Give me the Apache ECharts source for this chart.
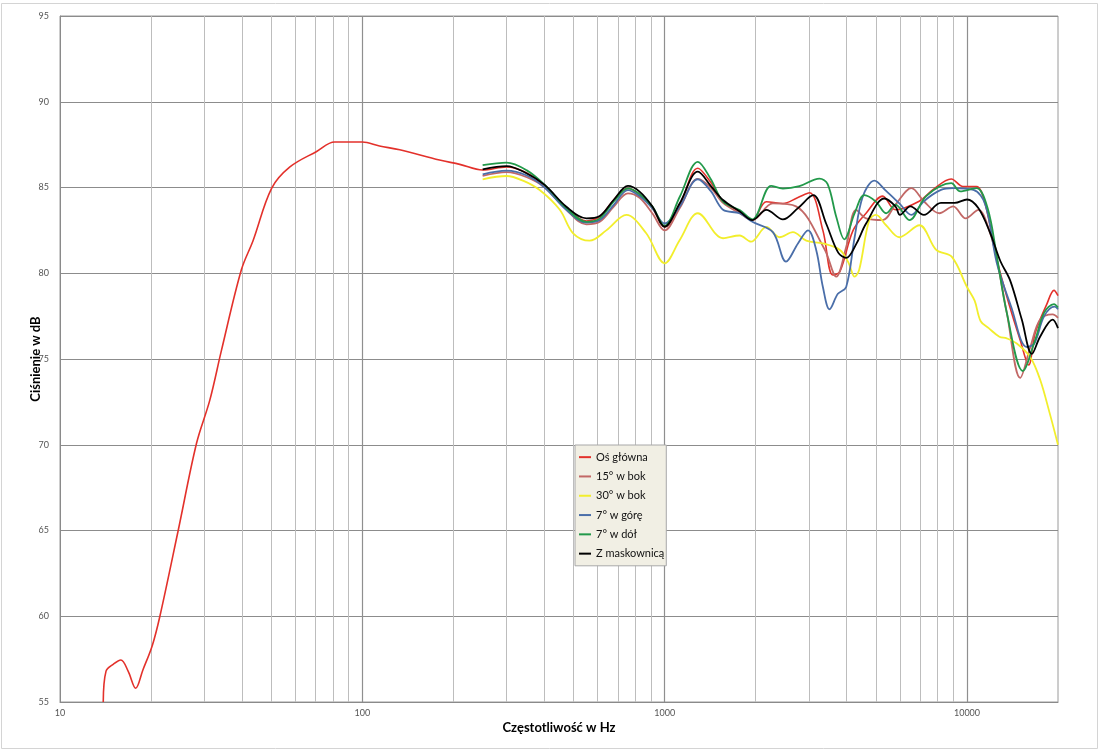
<!DOCTYPE html>
<html>
<head>
<meta charset="utf-8">
<script src="https://cdn.jsdelivr.net/npm/echarts@6/dist/echarts.min.js"></script>
<style>html,body{margin:0;padding:0;background:#fff}#c{width:1100px;height:751px}</style>
</head>
<body>
<div id="c"></div>
<script>
// ---- data ----
const seriesNames = ['Oś główna', '15° w bok', '30° w bok', '7° w górę', '7° w dół', 'Z maskownicą'];
const yTicks = [55, 60, 65, 70, 75, 80, 85, 90, 95];
const xTickLabels = [10, 100, 1000, 10000];

const mainFreq = [13.9,14.2,15.0,15.9,16.8,17.8,18.8,20.2,21.4,24.6,28.3,31.3,34.2,39.8,43.5,50.1,57.6,70.6,81,100,114,133,180,210,250,300,350,401,473,551,610,680,756,826,910,1000,1122,1288,1420,1560,1770,1950,2170,2461,2750,3015,3337,3600,3800,4200,4637,5260,5800,6950,7700,8870,9700,10750,11500,12550,13880,15000,16000,16800,18370,19400,20000];
const mainDb   = [55.0,56.8,57.2,57.45,56.8,55.8,56.87,58.3,60.0,65.0,70.1,72.6,75.5,80.2,81.9,84.95,86.2,87.1,87.65,87.65,87.42,87.2,86.6,86.35,86.02,86.2,85.85,85.1,83.8,83.05,83.3,84.3,84.95,84.6,83.8,82.7,84.0,86.12,85.3,84.2,83.6,83.1,84.17,84.07,84.4,84.69,82.5,79.9,80.1,82.5,83.5,84.5,83.7,84.2,84.86,85.5,85.06,85.06,84.0,80.8,78.0,76.1,74.65,76.5,78.2,79.0,78.7];

const side15Freq = [250,300,350,401,473,551,610,680,756,826,910,1000,1122,1288,1420,1560,1770,1950,2280,2720,3380,3694,3981,4299,4637,5260,5800,6550,7200,8100,9000,9900,10900,11900,12550,13540,15000,16200,17450,19200,20000];
const side15Db   = [85.68,85.9,85.6,85.0,83.7,82.85,83.0,83.9,84.66,84.4,83.5,82.5,83.8,85.5,85.0,84.1,83.5,83.1,84.07,83.9,81.4,79.8,81.5,83.7,83.2,83.1,84.0,84.96,84.2,83.5,83.9,83.2,83.7,82.4,80.8,77.7,73.9,75.7,77.3,77.6,77.4];

const side30Freq = [250,300,340,386,450,498,565,641,747,869,1000,1122,1288,1560,1770,1930,2170,2400,2656,2940,3337,3800,4060,4250,4400,4750,5000,5400,5970,6963,7910,8900,10000,10600,11100,11800,12800,13540,14610,16200,17450,18800,20000];
const side30Db   = [85.48,85.67,85.4,84.85,83.7,82.33,81.9,82.5,83.4,82.33,80.58,81.94,83.5,82.04,82.2,81.84,82.7,82.1,82.4,81.9,81.74,81.36,80.6,79.8,80.2,83.1,83.4,82.8,82.1,82.8,81.36,80.97,79.2,78.4,77.2,76.8,76.3,76.2,75.9,75.1,73.8,71.8,70.0];

const upFreq = [250,300,350,401,473,551,610,680,756,826,910,1000,1122,1288,1420,1560,1770,1950,2280,2520,2760,2980,3171,3337,3511,3740,3985,4250,4520,4940,5400,5974,6550,7200,8200,9000,10500,11500,12550,14000,15770,16700,18000,19500,20000];
const upDb   = [85.77,85.98,85.7,85.0,83.7,82.95,83.1,84.0,84.85,84.5,83.8,82.9,83.9,85.48,84.8,83.7,83.5,83.0,82.4,80.68,81.74,82.5,81.36,79.2,77.9,78.8,79.2,82.1,84.46,85.4,84.8,84.07,83.4,84.2,84.86,84.96,84.86,84.0,80.6,78.05,75.7,75.9,77.5,78.05,77.9];

const downFreq = [250,300,350,401,473,551,610,680,756,826,910,1000,1122,1288,1420,1560,1770,1950,2250,2461,2790,3250,3460,3694,3930,4250,4580,5000,5400,5800,6451,7330,8870,9500,10750,11700,12550,13540,15300,16800,18000,19400,20000];
const downDb   = [86.3,86.45,86.0,85.15,83.8,83.0,83.2,84.2,84.95,84.62,83.9,82.76,84.46,86.5,85.5,84.17,83.68,83.14,85.1,84.94,85.08,85.52,85.2,83.3,81.98,83.5,84.55,84.17,83.5,84.0,83.1,84.5,85.25,84.77,84.96,83.8,81.0,77.7,74.3,76.1,77.7,78.2,78.0];

const grilleFreq = [250,300,349,401,473,551,610,680,756,826,910,1000,1122,1288,1420,1560,1772,1950,2170,2461,2760,3100,3420,3750,3985,4300,4637,5330,5800,6000,6500,7200,8200,9100,10000,10900,11900,12900,13880,15180,16390,17450,19200,20000];
const grilleDb   = [86.06,86.25,85.83,85.15,83.88,83.2,83.34,84.3,85.09,84.76,83.9,82.71,84.08,85.92,85.1,84.27,83.6,83.1,83.7,83.14,83.8,84.55,82.9,81.2,80.9,81.7,82.9,84.36,83.9,83.4,83.9,83.4,84.1,84.1,84.3,83.8,82.4,80.7,79.6,77.3,75.3,76.3,77.3,76.8];

// ---- build ----
const zip = (f, d) => f.map((x, i) => [x, d[i]]);
const colors = ['#e3312b', '#c26866', '#f2ee2c', '#4a6ea9', '#22994a', '#000000'];
const widths = [1.6, 1.8, 1.8, 1.8, 1.8, 1.8];
const dataSets = [zip(mainFreq, mainDb), zip(side15Freq, side15Db), zip(side30Freq, side30Db),
                  zip(upFreq, upDb), zip(downFreq, downDb), zip(grilleFreq, grilleDb)];

// vertical grid lines at 2..9 x 10^n (axis structure)
const minorLines = [], majorLines = [];
for (let e = 1; e <= 4; e++) {
  const base = Math.pow(10, e);
  if (e > 1) majorLines.push(base);
  for (let k = 2; k <= 9; k++) { const v = k * base; if (v < 20000) minorLines.push(v); }
}

const chart = echarts.init(document.getElementById('c'), null, {renderer: 'canvas'});
const FONT = 'Lato, "Open Sans", sans-serif';

const series = [{
  type: 'line', data: [], silent: true, z: 1,
  markLine: {
    silent: true, symbol: 'none', label: {show: false}, animation: false, z: 1,
    data: minorLines.map(v => ({xAxis: v, lineStyle: {color: '#bdbdbd', width: 1, type: 'solid'}}))
      .concat(majorLines.map(v => ({xAxis: v, lineStyle: {color: '#8f8f8f', width: 1.2, type: 'solid'}})))
  }
}];
seriesNames.forEach((n, i) => series.push({
  name: n, type: 'line', data: dataSets[i], smooth: 0.35, showSymbol: false, symbol: 'none',
  z: 3, lineStyle: {color: colors[i], width: widths[i]}, itemStyle: {color: colors[i]}
}));

chart.setOption({
  animation: false,
  backgroundColor: '#ffffff',
  graphic: [{type: 'rect', shape: {x: 1.5, y: 3.5, width: 1096, height: 745}, style: {fill: 'none', stroke: '#d4d4d4', lineWidth: 1}, z: -1}],
  grid: {left: 60, top: 16, width: 998, height: 686, show: true, borderColor: '#9a9a9a', borderWidth: 1, backgroundColor: 'transparent'},
  legend: {
    data: seriesNames, orient: 'vertical', left: 575, top: 445, z: 50, zlevel: 0,
    backgroundColor: '#f1efe4', borderColor: '#a8a8a8', borderWidth: 1,
    padding: [5, 2, 5, 4], itemGap: 5, itemWidth: 12, itemHeight: 2, icon: 'rect',
    textStyle: {fontFamily: FONT, fontSize: 11, color: '#111', lineHeight: 14.3},
    selectedMode: false
  },
  xAxis: {
    type: 'log', logBase: 10, min: 10, max: 20000,
    name: 'Częstotliwość w Hz', nameLocation: 'middle', nameGap: 19, nameMoveOverlap: false,
    nameTextStyle: {fontFamily: FONT, fontSize: 13, fontWeight: 'bold', color: '#000'},
    axisLine: {show: true, lineStyle: {color: '#8a8a8a', width: 1}},
    axisTick: {show: false},
    splitLine: {show: false},
    axisLabel: {
      fontFamily: FONT, fontSize: 9, color: '#555', margin: 7,
      formatter: v => { const r = Math.round(v); return xTickLabels.indexOf(r) >= 0 ? String(r) : ''; }
    }
  },
  yAxis: {
    type: 'value', min: yTicks[0], max: yTicks[yTicks.length - 1], interval: 5,
    name: 'Ciśnienie w dB', nameLocation: 'middle', nameGap: 18, nameMoveOverlap: false,
    nameTextStyle: {fontFamily: FONT, fontSize: 13, fontWeight: 'bold', color: '#000'},
    axisLine: {show: true, lineStyle: {color: '#8a8a8a', width: 1}},
    axisTick: {show: false},
    splitLine: {show: true, lineStyle: {color: '#8c8c8c', width: 1}},
    axisLabel: {fontFamily: FONT, fontSize: 9, color: '#555', margin: 11}
  },
  series: series
});
</script>
</body>
</html>
